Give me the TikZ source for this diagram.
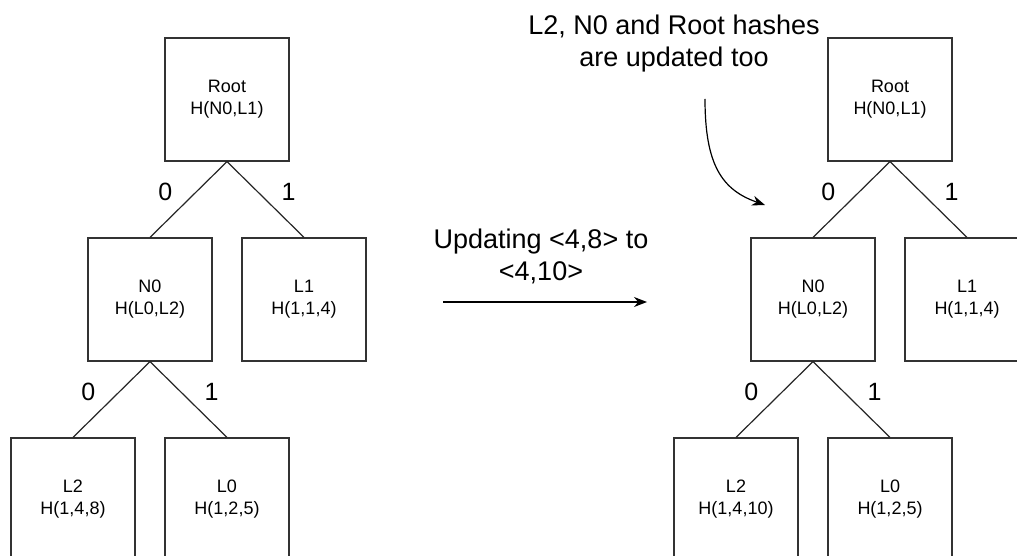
\documentclass[tikz,border=0pt]{standalone}
\usepackage{fontspec}
\setmainfont{Liberation Sans}
\usetikzlibrary{arrows.meta}
\tikzset{
  box/.style={draw=black!80, line width=1.2pt, minimum width=124pt, minimum height=123pt,
    align=center, font=\fontsize{18}{22}\selectfont},
  bit/.style={font=\fontsize{25}{30}\selectfont},
  note/.style={align=center, font=\fontsize{27}{32}\selectfont},
  tip/.style={-{Stealth[length=13pt,width=10pt]}},
}

\begin{document}
\begin{tikzpicture}[x=1pt, y=-1pt, line width=1.2pt]
  \useasboundingbox (0,0) rectangle (1017,556);
  % tree before the update
  \draw
    (227,99.5) node[box] (oroot){Root\\H(N0,L1)}
    (150,299.5) node[box] (on0){N0\\H(L0,L2)}
    (304,299.5) node[box] (ol1){L1\\H(1,1,4)}
    (73,499.5) node[box] (ol2){L2\\H(1,4,8)}
    (227,499.5) node[box] (ol0){L0\\H(1,2,5)};
  % tree after the update
  \draw
    (890,99.5) node[box] (nroot){Root\\H(N0,L1)}
    (813,299.5) node[box] (nn0){N0\\H(L0,L2)}
    (967,299.5) node[box] (nl1){L1\\H(1,1,4)}
    (736,499.5) node[box] (nl2){L2\\H(1,4,10)}
    (890,499.5) node[box] (nl0){L0\\H(1,2,5)};
  \begin{scope}[draw=black!85]
    \draw (oroot.south) -- node[bit, pos=0.4, left=20pt]{0} (on0.north);
    \draw (oroot.south) -- node[bit, pos=0.4, right=20pt]{1} (ol1.north);
    \draw (on0.south) -- node[bit, pos=0.4, left=20pt]{0} (ol2.north);
    \draw (on0.south) -- node[bit, pos=0.4, right=20pt]{1} (ol0.north);
    \draw (nroot.south) -- node[bit, pos=0.4, left=20pt]{0} (nn0.north);
    \draw (nroot.south) -- node[bit, pos=0.4, right=20pt]{1} (nl1.north);
    \draw (nn0.south) -- node[bit, pos=0.4, left=20pt]{0} (nl2.north);
    \draw (nn0.south) -- node[bit, pos=0.4, right=20pt]{1} (nl0.north);
  \end{scope}
  % notes
  \node[note] (upd) at (541,256) {Updating <4,8> to\\<4,10>};
  \node[note] (hint) at (674,44) {L2, N0 and Root hashes\\are updated too};
  \coordinate (upd-from) at (443,302);
  \coordinate (upd-to) at (647,302);
  \coordinate (hint-from) at (705,99);
  \coordinate (hint-to) at (765,205);
  \draw[tip] (upd-from) -- (upd-to);
  \draw[tip] (hint-from) .. controls (705,165) and (722,190) .. (hint-to);
\end{tikzpicture}
\end{document}
